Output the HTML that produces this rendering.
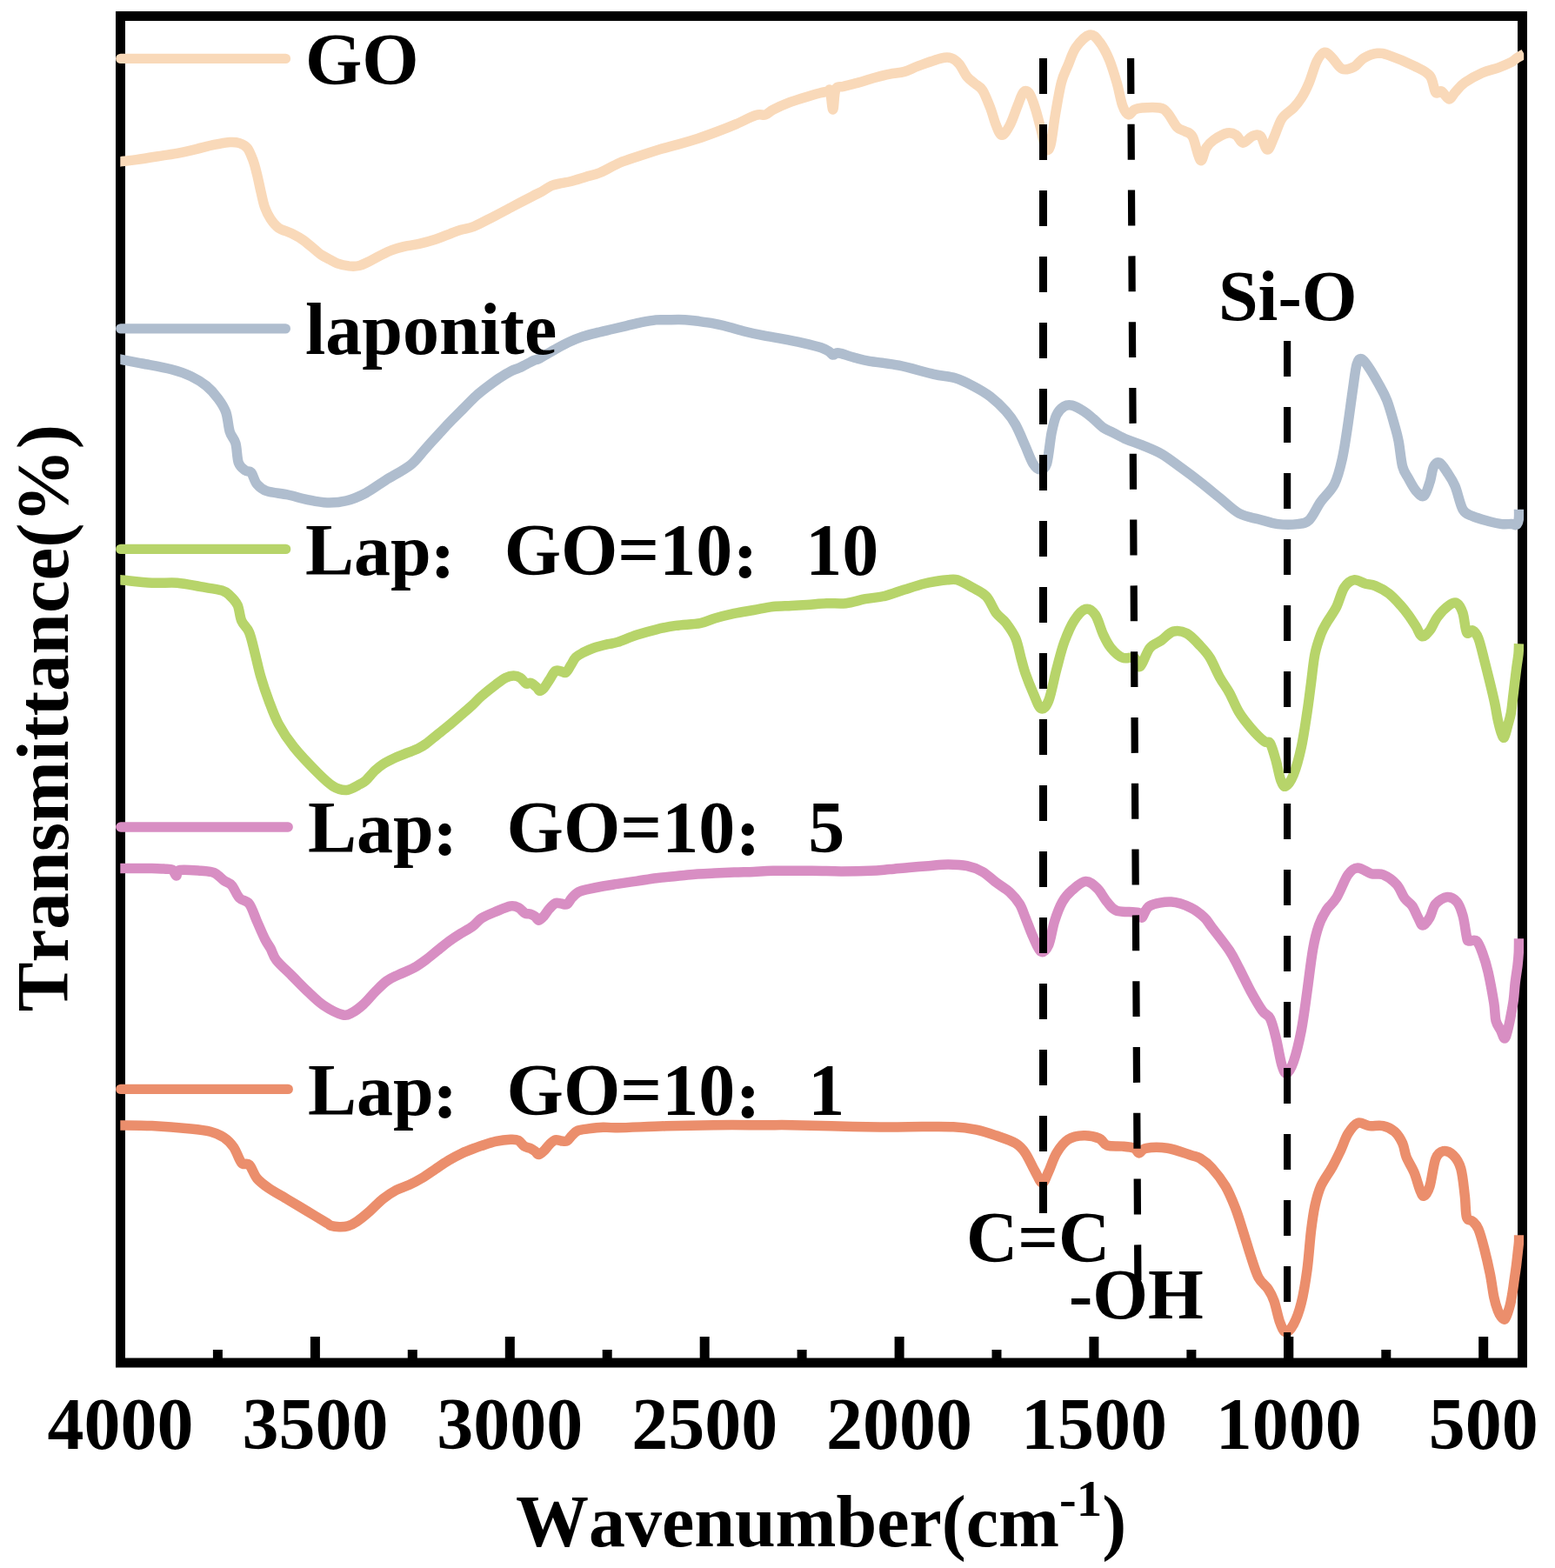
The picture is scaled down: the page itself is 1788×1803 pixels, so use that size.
<!DOCTYPE html>
<html><head><meta charset="utf-8"><title>FTIR</title>
<style>
html,body{margin:0;padding:0;background:#fff;}
body{width:1788px;height:1803px;overflow:hidden;}
svg{display:block;}
text{font-family:"Liberation Serif","Noto Serif CJK SC",serif;font-weight:bold;fill:#000;font-kerning:none;font-feature-settings:"kern" 0;}
.cj{font-family:"Noto Serif CJK SC","Liberation Serif",serif;}
</style></head><body>
<svg width="1788" height="1803" viewBox="0 0 1788 1803">
<defs><clipPath id="pc"><rect x="138.3" y="0" width="1613.9" height="1803"/></clipPath></defs>
<rect width="1788" height="1803" fill="#fff"/>
<rect x="138.5" y="18.5" width="1612" height="1548.5" fill="none" stroke="#000" stroke-width="11"/>
<rect x="356.9" y="1537" width="11" height="26" fill="#000"/>
<rect x="580.8" y="1537" width="11" height="26" fill="#000"/>
<rect x="804.7" y="1537" width="11" height="26" fill="#000"/>
<rect x="1028.6" y="1537" width="11" height="26" fill="#000"/>
<rect x="1252.4" y="1537" width="11" height="26" fill="#000"/>
<rect x="1476.3" y="1537" width="11" height="26" fill="#000"/>
<rect x="1700.2" y="1537" width="11" height="26" fill="#000"/>
<rect x="244.9" y="1552" width="11" height="11" fill="#000"/>
<rect x="468.8" y="1552" width="11" height="11" fill="#000"/>
<rect x="692.7" y="1552" width="11" height="11" fill="#000"/>
<rect x="916.6" y="1552" width="11" height="11" fill="#000"/>
<rect x="1140.5" y="1552" width="11" height="11" fill="#000"/>
<rect x="1364.4" y="1552" width="11" height="11" fill="#000"/>
<rect x="1588.3" y="1552" width="11" height="11" fill="#000"/>
<g clip-path="url(#pc)" fill="none" stroke-width="11.5" stroke-linejoin="round" stroke-linecap="butt">
<path stroke="#F9D9B9" d="M134.0,186.4 C134.7,186.3 134.5,186.4 138.3,185.9 C142.1,185.4 148.9,184.7 156.8,183.6 C164.7,182.5 177.7,180.4 185.9,179.1 C194.1,177.8 199.4,177.1 206.1,175.8 C212.8,174.5 219.5,172.9 226.2,171.3 C232.9,169.7 240.0,167.7 246.3,166.4 C252.6,165.1 259.4,163.8 264.2,163.5 C269.0,163.2 272.0,163.5 275.4,164.6 C278.8,165.7 281.8,166.8 284.4,170.2 C287.0,173.5 289.2,179.7 291.1,184.7 C293.0,189.7 294.0,194.4 295.5,200.4 C297.0,206.4 298.5,214.2 300.0,220.5 C301.5,226.8 302.6,233.2 304.5,238.4 C306.4,243.6 308.6,248.0 311.2,251.9 C313.8,255.8 316.1,259.1 320.2,261.9 C324.3,264.7 331.0,266.2 335.8,268.6 C340.6,271.0 344.4,273.0 349.2,276.5 C354.0,280.0 361.4,286.7 364.9,289.5 C368.4,292.3 367.7,291.9 370.0,293.4 C372.3,294.9 375.9,296.7 378.9,298.3 C381.9,299.9 384.2,301.5 387.9,302.8 C391.6,304.1 397.1,305.4 401.3,305.9 C405.5,306.3 409.3,306.3 413.0,305.5 C416.7,304.7 419.7,302.9 423.7,301.0 C427.7,299.1 432.6,296.0 437.1,293.8 C441.6,291.6 446.0,289.3 450.5,287.6 C455.0,285.9 458.8,284.8 464.0,283.6 C469.2,282.4 475.9,281.8 481.9,280.4 C487.9,279.0 493.9,277.4 499.8,275.5 C505.8,273.6 512.6,270.7 517.6,268.8 C522.6,266.9 525.5,265.7 530.0,264.3 C534.5,262.9 538.5,263.0 544.7,260.5 C550.9,258.0 559.6,253.1 567.1,249.3 C574.6,245.5 582.0,241.4 589.5,237.5 C597.0,233.6 606.3,228.7 611.9,225.8 C617.5,222.9 619.3,222.2 623.0,220.2 C626.7,218.1 630.5,215.1 634.2,213.5 C637.9,211.9 641.7,211.5 645.4,210.7 C649.1,209.9 651.9,209.7 656.6,208.5 C661.3,207.3 667.8,205.1 673.4,203.4 C679.0,201.7 683.5,201.2 690.0,198.5 C696.5,195.8 704.9,190.5 712.4,187.3 C719.9,184.1 727.2,182.0 734.7,179.5 C742.2,177.0 749.6,174.4 757.1,172.2 C764.6,170.0 772.0,168.2 779.5,166.1 C787.0,164.0 794.4,161.8 801.9,159.4 C809.4,157.0 816.8,154.3 824.2,151.5 C831.7,148.7 839.1,145.8 846.6,142.6 C854.1,139.4 863.4,134.3 869.0,132.5 C874.6,130.7 876.9,133.0 880.2,131.9 C883.5,130.8 884.6,128.5 889.0,126.2 C893.4,123.9 900.8,120.5 906.8,118.2 C912.8,115.9 918.7,114.2 924.7,112.3 C930.7,110.4 938.1,108.2 942.6,107.0 C947.1,105.8 949.6,105.6 951.6,105.2 C953.6,104.8 953.6,101.0 954.6,104.5 C955.6,108.0 956.7,126.3 957.8,126.0 C958.9,125.7 959.0,106.9 961.0,102.5 C963.0,98.1 965.1,100.7 969.5,99.4 C973.9,98.1 981.4,96.6 987.4,94.9 C993.4,93.2 999.3,91.1 1005.3,89.5 C1011.3,87.9 1017.4,86.3 1023.2,85.1 C1029.0,83.9 1034.5,83.9 1040.0,82.4 C1045.5,80.9 1048.8,78.5 1055.9,75.9 C1063.0,73.3 1076.5,68.4 1082.8,66.9 C1089.1,65.4 1090.7,65.8 1094.0,66.9 C1097.3,68.0 1099.9,70.0 1102.9,73.6 C1105.9,77.1 1108.9,84.5 1111.9,88.2 C1114.9,91.9 1117.8,93.4 1120.8,96.0 C1123.8,98.6 1126.8,99.1 1129.8,103.8 C1132.8,108.5 1136.1,117.3 1138.7,124.0 C1141.3,130.7 1143.2,138.9 1145.4,144.1 C1147.6,149.3 1149.5,155.3 1152.1,155.3 C1154.7,155.3 1158.1,149.7 1161.1,144.1 C1164.1,138.5 1167.4,128.0 1170.0,121.7 C1172.6,115.4 1174.5,108.5 1176.7,106.1 C1178.9,103.7 1181.2,104.2 1183.4,107.2 C1185.7,110.2 1188.0,117.1 1190.2,124.0 C1192.5,130.9 1194.9,140.8 1196.9,148.6 C1199.0,156.4 1200.7,167.9 1202.5,170.9 C1204.3,173.9 1206.2,173.2 1208.0,166.5 C1209.8,159.8 1211.5,142.6 1213.6,130.7 C1215.7,118.8 1218.0,104.2 1220.4,94.9 C1222.8,85.6 1225.4,81.4 1228.2,74.7 C1231.0,68.0 1233.0,60.4 1237.1,54.6 C1241.2,48.8 1248.3,41.2 1252.8,40.1 C1257.3,39.0 1260.3,43.2 1264.0,47.9 C1267.7,52.5 1271.9,60.2 1275.2,68.0 C1278.5,75.8 1281.5,86.0 1284.1,94.9 C1286.7,103.9 1288.6,115.5 1290.8,121.7 C1293.0,127.9 1295.2,131.1 1297.5,131.8 C1299.8,132.6 1301.7,127.5 1304.3,126.2 C1306.9,124.9 1308.4,124.4 1313.2,124.0 C1318.0,123.6 1328.5,123.1 1333.3,124.0 C1338.1,124.9 1338.9,125.9 1342.3,129.6 C1345.7,133.3 1350.2,142.8 1353.5,146.3 C1356.8,149.8 1359.4,148.9 1362.4,150.8 C1365.4,152.7 1368.4,151.9 1371.4,157.5 C1374.4,163.1 1377.7,182.3 1380.3,184.4 C1382.9,186.5 1384.4,173.9 1387.0,170.0 C1389.6,166.1 1391.7,163.7 1395.7,160.9 C1399.8,158.1 1407.0,153.9 1411.3,153.0 C1415.6,152.1 1418.4,153.4 1421.4,155.3 C1424.4,157.2 1426.0,164.0 1429.2,164.2 C1432.4,164.4 1437.0,157.7 1440.4,156.4 C1443.8,155.1 1446.6,153.8 1449.4,156.4 C1452.2,159.0 1454.6,171.9 1457.2,172.1 C1459.8,172.3 1462.2,163.5 1465.0,157.5 C1467.8,151.5 1470.3,141.9 1474.0,136.3 C1477.7,130.7 1483.7,127.9 1487.4,124.0 C1491.1,120.1 1493.3,117.6 1496.3,112.8 C1499.3,108.0 1502.3,102.0 1505.3,94.9 C1508.3,87.8 1511.2,76.1 1514.2,70.3 C1517.2,64.5 1520.2,60.8 1523.2,60.2 C1526.2,59.6 1528.8,63.7 1532.1,66.9 C1535.4,70.1 1539.2,77.5 1543.3,79.2 C1547.4,80.9 1552.6,79.0 1556.7,77.0 C1560.8,75.0 1563.4,69.5 1567.9,66.9 C1572.4,64.3 1578.8,61.8 1583.6,61.3 C1588.4,60.8 1589.9,61.2 1597.0,63.6 C1604.1,66.0 1618.3,72.0 1626.1,75.9 C1633.9,79.8 1639.9,82.0 1644.0,87.0 C1648.1,92.0 1648.5,103.1 1650.7,106.1 C1652.9,109.1 1654.8,103.6 1657.4,104.9 C1660.0,106.2 1663.8,113.7 1666.4,113.9 C1669.0,114.1 1670.1,109.3 1673.1,106.1 C1676.1,102.9 1679.1,98.6 1684.3,94.9 C1689.5,91.2 1698.1,86.5 1704.4,83.7 C1710.7,80.9 1716.7,80.1 1722.3,78.1 C1727.9,76.0 1734.2,73.3 1737.9,71.4 C1741.6,69.5 1742.1,68.1 1744.5,66.5 C1746.9,64.9 1751.2,62.8 1752.5,62.0"/>
<path stroke="#AFBDCE" d="M134.0,412.5 C134.7,412.6 133.4,412.2 138.3,413.1 C143.2,414.0 153.8,416.1 163.6,418.0 C173.4,419.9 187.8,422.3 197.1,424.7 C206.4,427.1 212.8,429.4 219.5,432.6 C226.2,435.8 232.2,439.5 237.4,443.8 C242.6,448.1 247.1,453.3 250.8,458.3 C254.5,463.3 257.6,467.7 259.8,474.0 C262.0,480.3 262.4,490.3 264.2,496.3 C266.0,502.3 269.2,503.8 270.9,509.8 C272.6,515.8 272.4,526.9 274.3,532.1 C276.2,537.3 279.7,539.2 282.1,541.1 C284.5,543.0 286.6,540.7 288.8,543.3 C291.0,545.9 292.5,553.2 295.5,556.7 C298.5,560.2 300.7,562.6 306.7,564.6 C312.7,566.6 323.5,567.3 331.3,569.0 C339.1,570.7 346.2,573.1 353.7,574.6 C361.2,576.1 368.6,577.8 376.1,578.0 C383.6,578.2 391.1,577.6 398.5,575.7 C405.9,573.8 413.4,570.7 420.8,566.8 C428.2,562.9 434.6,557.7 443.2,552.3 C451.8,546.9 464.7,540.4 472.3,534.4 C479.9,528.4 483.1,522.6 488.9,516.3 C494.6,510.0 501.6,502.3 506.8,496.6 C512.0,490.9 515.8,486.9 520.3,482.3 C524.8,477.7 529.2,473.4 533.7,468.9 C538.2,464.4 542.6,459.5 547.1,455.5 C551.6,451.5 556.0,448.1 560.5,444.7 C565.0,441.3 569.5,437.9 574.0,434.9 C578.5,431.9 583.7,428.7 587.4,426.8 C591.1,424.9 593.3,424.6 596.3,423.3 C599.3,422.0 602.3,420.3 605.3,418.8 C608.3,417.3 611.8,415.4 614.2,414.3 C616.7,413.2 616.2,414.2 620.0,412.3 C623.8,410.4 631.2,405.7 636.8,402.6 C642.4,399.5 648.0,396.2 653.6,393.6 C659.2,391.0 664.7,388.8 670.3,386.9 C675.9,385.0 681.5,383.8 687.1,382.4 C692.7,381.0 698.3,379.8 703.9,378.5 C709.5,377.2 715.1,375.9 720.7,374.6 C726.3,373.3 731.8,371.8 737.4,370.7 C743.0,369.6 749.5,368.4 754.2,367.9 C758.9,367.4 759.8,367.7 765.4,367.7 C771.0,367.7 781.3,367.4 787.8,367.7 C794.3,368.0 799.2,368.9 804.6,369.6 C810.0,370.3 815.4,371.0 820.0,371.8 C824.6,372.6 826.6,373.0 832.4,374.5 C838.2,376.0 847.2,378.8 854.7,380.7 C862.2,382.6 869.6,384.2 877.1,385.7 C884.6,387.2 892.0,388.2 899.5,389.6 C907.0,391.0 914.4,392.4 921.9,394.1 C929.4,395.8 939.0,398.0 944.2,399.7 C949.4,401.4 951.0,402.8 953.2,404.2 C955.5,405.6 956.2,407.8 957.7,408.1 C959.2,408.4 960.5,406.3 962.0,406.0 C963.5,405.7 963.0,405.5 966.6,406.4 C970.2,407.3 977.8,410.0 983.4,411.5 C989.0,413.0 991.6,413.9 1000.0,415.4 C1008.4,416.8 1021.3,417.7 1033.6,420.2 C1045.9,422.7 1063.0,427.9 1073.8,430.3 C1084.6,432.7 1090.9,432.5 1098.4,434.7 C1105.9,436.9 1111.9,440.1 1118.6,443.7 C1125.3,447.2 1132.4,451.1 1138.7,456.0 C1145.0,460.9 1151.8,467.4 1156.6,472.8 C1161.4,478.2 1164.1,481.7 1167.8,488.4 C1171.5,495.1 1175.7,505.5 1179.0,513.0 C1182.3,520.5 1185.1,528.7 1187.9,533.2 C1190.7,537.7 1193.1,539.9 1195.7,539.9 C1198.3,539.9 1201.3,540.3 1203.6,533.2 C1205.8,526.1 1207.3,506.7 1209.2,497.4 C1211.1,488.1 1212.4,482.2 1214.8,477.2 C1217.2,472.2 1220.7,469.0 1223.7,467.2 C1226.7,465.4 1229.0,465.2 1232.7,466.1 C1236.4,467.0 1242.0,470.2 1246.1,472.8 C1250.2,475.4 1253.6,478.5 1257.3,481.7 C1261.0,484.9 1264.8,489.2 1268.5,491.8 C1272.2,494.4 1275.1,495.2 1279.6,497.4 C1284.1,499.6 1289.7,502.8 1295.3,505.2 C1300.9,507.6 1306.5,509.1 1313.2,511.9 C1319.9,514.7 1328.1,517.7 1335.6,522.0 C1343.0,526.3 1350.5,532.3 1357.9,537.7 C1365.4,543.1 1372.9,548.7 1380.3,554.5 C1387.7,560.3 1395.0,566.4 1402.4,572.4 C1409.8,578.4 1417.2,586.2 1424.7,590.3 C1432.2,594.4 1439.6,595.0 1447.1,597.0 C1454.6,599.0 1462.0,601.7 1469.5,602.6 C1477.0,603.5 1485.9,603.4 1491.9,602.6 C1497.9,601.9 1500.8,602.4 1505.3,598.1 C1509.8,593.8 1513.8,583.8 1518.7,576.9 C1523.6,570.0 1530.3,564.9 1534.4,556.7 C1538.5,548.5 1540.7,539.2 1543.3,527.7 C1545.9,516.2 1548.0,500.8 1550.0,487.4 C1552.0,474.0 1553.9,458.5 1555.6,447.1 C1557.3,435.7 1558.4,424.5 1560.1,418.8 C1561.8,413.1 1563.3,412.0 1565.7,412.8 C1568.1,413.6 1571.2,418.5 1574.6,423.5 C1577.9,428.5 1582.4,436.4 1585.8,442.6 C1589.2,448.8 1591.8,452.7 1594.8,460.5 C1597.8,468.3 1601.5,481.8 1603.7,489.6 C1605.9,497.4 1606.7,499.7 1608.2,507.5 C1609.7,515.3 1610.8,529.5 1612.7,536.6 C1614.6,543.7 1616.8,545.3 1619.4,550.0 C1622.0,554.7 1625.3,561.2 1628.3,564.6 C1631.3,568.0 1634.7,571.9 1637.3,570.2 C1639.9,568.5 1642.1,560.1 1644.0,554.5 C1645.9,548.9 1646.6,540.3 1648.5,536.6 C1650.4,532.9 1652.6,531.0 1655.2,532.1 C1657.8,533.2 1661.1,538.8 1664.1,543.3 C1667.1,547.8 1670.1,551.9 1673.1,559.0 C1676.1,566.1 1678.7,580.0 1682.0,585.8 C1685.3,591.6 1688.4,591.4 1693.2,593.6 C1698.0,595.8 1705.5,597.7 1711.1,599.2 C1716.7,600.7 1722.3,602.1 1726.8,602.6 C1731.3,603.1 1735.1,602.4 1737.9,602.5 C1740.7,602.6 1742.1,604.4 1743.5,603.5 C1744.9,602.6 1745.8,600.0 1746.3,597.0 C1746.8,594.0 1746.5,587.7 1746.5,585.8"/>
<path stroke="#B7D46A" d="M134.0,666.5 C134.7,666.5 131.5,666.2 138.3,666.8 C145.1,667.4 163.8,669.6 174.7,670.2 C185.6,670.8 194.5,669.5 203.8,670.2 C213.1,671.0 222.1,673.2 230.7,674.7 C239.3,676.2 249.7,677.4 255.3,679.1 C260.9,680.8 261.2,681.9 264.2,684.7 C267.2,687.5 270.9,691.0 273.2,695.9 C275.4,700.8 275.5,708.6 277.7,713.8 C279.9,719.0 284.0,720.9 286.6,727.2 C289.2,733.6 291.1,743.3 293.3,751.9 C295.5,760.5 297.4,769.8 300.0,778.7 C302.6,787.6 305.6,796.5 309.0,805.5 C312.4,814.5 315.4,823.4 320.2,832.4 C325.0,841.4 330.6,849.9 338.0,859.2 C345.4,868.5 357.4,880.8 364.9,888.3 C372.4,895.8 377.2,900.6 382.8,904.0 C388.4,907.4 393.3,908.9 398.5,908.5 C403.7,908.1 410.4,903.5 414.1,901.7 C417.8,899.9 417.7,900.1 420.6,897.5 C423.5,894.9 428.0,889.0 431.3,885.9 C434.6,882.8 436.6,881.1 440.3,878.7 C444.0,876.3 449.2,873.7 453.7,871.6 C458.2,869.5 462.6,868.0 467.1,866.2 C471.6,864.4 476.8,862.7 480.5,860.9 C484.2,859.1 485.8,858.2 489.5,855.5 C493.2,852.8 498.4,848.3 502.9,844.7 C507.4,841.1 511.8,837.7 516.3,834.0 C520.8,830.3 525.3,826.3 529.8,822.4 C534.3,818.5 539.2,814.4 543.2,810.7 C547.2,807.1 549.1,804.4 553.6,800.5 C558.1,796.6 565.6,790.6 570.3,787.1 C574.9,783.6 578.1,781.0 581.5,779.3 C584.9,777.6 587.7,777.0 590.5,777.0 C593.3,777.0 595.9,777.8 598.3,779.3 C600.7,780.8 603.0,785.0 605.0,786.0 C607.0,787.0 608.6,784.6 610.6,785.4 C612.6,786.1 615.6,789.0 617.3,790.5 C619.0,792.0 619.4,794.2 620.7,794.4 C622.0,794.6 623.2,793.8 625.1,791.6 C627.0,789.5 629.6,784.9 631.9,781.5 C634.1,778.1 636.4,773.1 638.6,771.5 C640.8,769.9 643.2,771.7 645.3,772.0 C647.3,772.3 649.0,774.3 650.9,773.1 C652.8,771.9 654.6,767.6 656.5,764.7 C658.4,761.8 659.7,758.2 662.1,755.8 C664.5,753.4 667.6,752.0 671.0,750.2 C674.4,748.4 677.5,746.8 682.2,745.2 C686.9,743.6 694.4,741.8 699.0,740.7 C703.6,739.6 704.4,740.2 710.0,738.4 C715.6,736.6 724.9,732.4 732.4,730.0 C739.9,727.6 747.2,725.6 754.7,723.8 C762.2,722.0 768.7,720.6 777.1,719.4 C785.5,718.2 797.6,718.0 805.1,716.6 C812.6,715.2 815.4,712.9 821.9,711.0 C828.4,709.1 836.8,707.0 844.2,705.4 C851.7,703.8 859.1,702.8 866.6,701.5 C874.1,700.2 881.8,698.4 889.0,697.5 C896.2,696.6 903.5,696.8 910.0,696.4 C916.5,696.0 921.3,695.8 928.0,695.4 C934.7,695.0 942.8,694.0 950.3,693.7 C957.8,693.4 965.2,694.5 972.7,693.7 C980.2,692.9 987.7,690.1 995.1,688.7 C1002.5,687.3 1010.0,687.1 1017.4,685.3 C1024.8,683.5 1032.3,680.3 1039.8,678.0 C1047.3,675.7 1055.7,673.0 1062.2,671.3 C1068.7,669.6 1074.5,668.8 1079.0,668.0 C1083.5,667.2 1085.9,667.0 1089.5,666.8 C1093.1,666.6 1095.9,665.3 1100.7,666.8 C1105.5,668.3 1113.0,672.6 1118.6,675.8 C1124.2,679.0 1129.7,681.0 1134.2,685.9 C1138.7,690.8 1141.7,699.9 1145.4,704.9 C1149.1,709.9 1152.9,711.2 1156.6,716.1 C1160.3,721.0 1164.8,726.9 1167.8,734.0 C1170.8,741.1 1172.6,751.9 1174.5,758.6 C1176.4,765.3 1176.8,767.9 1179.0,774.2 C1181.2,780.5 1184.9,789.9 1187.9,796.6 C1190.9,803.3 1193.9,813.0 1196.9,814.5 C1199.9,816.0 1202.8,813.0 1205.8,805.5 C1208.8,798.0 1211.8,781.0 1214.8,769.8 C1217.8,758.6 1220.3,747.7 1223.7,738.4 C1227.1,729.1 1230.8,720.1 1234.9,713.8 C1239.0,707.5 1244.2,701.5 1248.3,700.4 C1252.4,699.3 1256.1,702.2 1259.5,707.1 C1262.9,712.0 1265.5,723.2 1268.5,729.5 C1271.5,735.8 1273.7,740.6 1277.4,745.1 C1281.1,749.6 1286.3,754.4 1290.8,756.3 C1295.3,758.2 1300.9,754.6 1304.3,756.3 C1307.7,758.0 1308.0,768.3 1311.0,766.4 C1314.0,764.5 1318.0,750.1 1322.1,745.1 C1326.2,740.1 1331.1,739.4 1335.6,736.2 C1340.1,733.0 1344.2,727.4 1349.0,726.1 C1353.8,724.8 1359.5,725.6 1364.7,728.4 C1369.9,731.2 1375.9,738.2 1380.3,742.9 C1384.7,747.5 1387.5,750.3 1391.2,756.3 C1394.9,762.3 1398.7,772.0 1402.4,778.7 C1406.1,785.4 1409.9,789.9 1413.6,796.6 C1417.3,803.3 1420.6,812.3 1424.7,819.0 C1428.8,825.7 1433.4,831.3 1438.2,836.9 C1443.0,842.5 1450.1,849.5 1453.8,852.5 C1457.5,855.5 1458.3,851.1 1460.5,854.8 C1462.7,858.5 1465.2,867.8 1467.2,874.9 C1469.2,882.0 1470.9,892.4 1472.8,897.3 C1474.7,902.1 1476.0,905.1 1478.4,904.0 C1480.8,902.9 1484.4,898.1 1487.4,890.6 C1490.4,883.1 1493.7,871.1 1496.3,859.2 C1498.9,847.3 1501.1,831.3 1503.0,819.0 C1504.9,806.7 1506.0,796.6 1507.5,785.4 C1509.0,774.2 1510.1,761.2 1512.0,751.9 C1513.9,742.6 1516.5,735.5 1518.7,729.5 C1520.9,723.5 1522.4,721.3 1525.4,716.1 C1528.4,710.9 1533.2,704.9 1536.6,698.2 C1539.9,691.5 1542.2,681.0 1545.5,675.8 C1548.8,670.6 1552.6,667.5 1556.7,666.8 C1560.8,666.0 1566.1,670.2 1570.2,671.3 C1574.3,672.4 1576.8,671.7 1581.3,673.6 C1585.8,675.5 1592.2,678.8 1597.0,682.5 C1601.8,686.2 1606.7,691.8 1610.4,695.9 C1614.1,700.0 1616.4,703.0 1619.4,707.1 C1622.4,711.2 1625.7,716.4 1628.3,720.5 C1630.9,724.6 1632.4,731.0 1635.0,731.7 C1637.6,732.5 1641.0,728.7 1644.0,725.0 C1647.0,721.3 1649.2,714.2 1652.9,709.4 C1656.6,704.5 1662.7,698.5 1666.4,695.9 C1670.1,693.3 1672.7,692.2 1675.3,693.7 C1677.9,695.2 1680.1,699.3 1682.0,704.9 C1683.9,710.5 1684.6,723.9 1686.5,727.2 C1688.4,730.6 1691.0,723.9 1693.2,725.0 C1695.4,726.1 1697.7,728.4 1699.9,734.0 C1702.1,739.6 1704.4,750.0 1706.6,758.6 C1708.8,767.2 1711.2,776.8 1713.3,785.4 C1715.4,794.0 1717.5,802.9 1719.0,810.0 C1720.5,817.1 1721.1,822.7 1722.3,828.0 C1723.5,833.3 1724.8,838.7 1726.0,842.0 C1727.2,845.3 1728.2,849.2 1729.5,848.0 C1730.8,846.8 1732.2,839.7 1733.5,835.0 C1734.8,830.3 1736.3,825.7 1737.4,819.8 C1738.5,813.9 1738.9,808.1 1739.9,799.8 C1740.9,791.5 1742.5,777.9 1743.5,769.9 C1744.5,761.9 1745.5,756.9 1746.0,752.0 C1746.5,747.1 1746.4,742.2 1746.5,740.3"/>
<path stroke="#D88EC3" d="M134.0,998.6 C134.7,998.6 131.5,998.6 138.3,998.6 C145.1,998.6 166.4,998.5 174.7,998.6 C183.0,998.7 184.3,998.9 188.2,999.1 C192.1,999.3 195.6,998.7 198.0,1000.0 C200.4,1001.3 201.2,1006.8 202.7,1006.9 C204.2,1007.0 202.3,1001.4 207.0,1000.5 C211.7,999.6 224.1,1000.8 230.7,1001.3 C237.2,1001.8 241.8,1001.7 246.3,1003.6 C250.8,1005.5 254.1,1010.1 257.5,1012.5 C260.9,1014.9 263.5,1014.8 266.5,1018.1 C269.5,1021.5 272.0,1029.0 275.4,1032.6 C278.8,1036.1 283.2,1034.9 286.6,1039.4 C290.0,1043.9 292.5,1052.8 295.5,1059.5 C298.5,1066.2 301.9,1074.4 304.5,1079.6 C307.1,1084.8 309.0,1086.7 311.2,1090.8 C313.4,1094.9 313.8,1099.0 317.9,1104.2 C322.0,1109.4 329.8,1116.1 335.8,1122.1 C341.8,1128.1 347.7,1134.4 353.7,1140.0 C359.7,1145.6 364.9,1151.2 371.6,1155.7 C378.3,1160.2 388.5,1165.4 394.0,1166.9 C399.5,1168.4 400.5,1166.7 404.5,1164.7 C408.5,1162.7 413.4,1158.9 417.9,1154.9 C422.4,1150.9 426.8,1145.0 431.3,1140.5 C435.8,1136.0 440.2,1131.3 444.7,1128.0 C449.2,1124.7 453.0,1123.4 458.2,1120.9 C463.4,1118.4 470.9,1115.7 476.1,1112.8 C481.3,1109.9 485.0,1107.1 489.5,1103.8 C494.0,1100.5 498.4,1096.7 502.9,1093.1 C507.4,1089.5 511.8,1085.7 516.3,1082.4 C520.8,1079.1 525.3,1076.2 529.8,1073.4 C534.3,1070.6 539.2,1068.3 543.2,1065.4 C547.2,1062.5 549.1,1058.8 553.6,1055.9 C558.1,1053.0 564.7,1050.4 570.3,1048.1 C575.9,1045.8 582.8,1042.7 587.1,1041.9 C591.4,1041.2 593.3,1042.2 596.1,1043.6 C598.9,1045.0 601.7,1049.1 603.9,1050.3 C606.1,1051.5 607.6,1050.3 609.5,1050.9 C611.4,1051.5 613.4,1052.5 615.1,1053.7 C616.8,1054.9 617.9,1058.2 619.6,1058.2 C621.3,1058.2 623.1,1056.0 625.1,1053.7 C627.1,1051.5 629.6,1047.2 631.9,1044.7 C634.1,1042.2 636.4,1039.5 638.6,1038.6 C640.8,1037.7 643.1,1038.9 645.3,1039.1 C647.5,1039.3 650.0,1040.8 652.0,1039.7 C654.0,1038.6 655.4,1034.7 657.6,1032.4 C659.8,1030.1 662.2,1027.4 665.4,1025.7 C668.6,1024.0 671.9,1023.5 676.6,1022.4 C681.3,1021.3 687.8,1020.0 693.4,1019.0 C699.0,1018.0 703.5,1017.4 710.0,1016.4 C716.5,1015.4 724.9,1014.2 732.4,1013.1 C739.9,1012.0 747.2,1010.6 754.7,1009.7 C762.2,1008.8 769.6,1008.2 777.1,1007.5 C784.6,1006.8 792.0,1005.8 799.5,1005.2 C807.0,1004.6 814.4,1004.5 821.9,1004.1 C829.4,1003.7 836.8,1003.3 844.2,1003.0 C851.7,1002.7 859.1,1002.7 866.6,1002.4 C874.1,1002.1 877.8,1001.5 889.0,1001.3 C900.2,1001.1 920.6,1001.2 933.6,1001.3 C946.6,1001.4 955.9,1001.9 967.1,1001.9 C978.3,1001.9 991.4,1001.7 1000.7,1001.3 C1010.0,1000.9 1015.5,1000.2 1023.0,999.6 C1030.5,999.0 1037.9,998.0 1045.4,997.4 C1052.9,996.8 1060.3,996.3 1067.8,995.7 C1075.3,995.1 1082.8,994.0 1090.2,994.0 C1097.6,994.0 1105.3,994.3 1111.9,995.7 C1118.5,997.1 1124.2,999.2 1129.8,1002.4 C1135.4,1005.6 1140.2,1010.8 1145.4,1014.7 C1150.6,1018.6 1156.6,1021.8 1161.1,1025.9 C1165.6,1030.0 1169.3,1034.6 1172.3,1039.4 C1175.3,1044.2 1176.4,1048.7 1179.0,1055.0 C1181.6,1061.3 1184.9,1070.9 1187.9,1077.4 C1190.9,1083.9 1193.9,1092.7 1196.9,1094.2 C1199.9,1095.7 1203.2,1092.1 1205.8,1086.3 C1208.4,1080.5 1209.9,1067.7 1212.5,1059.5 C1215.1,1051.3 1218.1,1043.1 1221.5,1037.1 C1224.9,1031.1 1228.2,1027.6 1232.7,1023.7 C1237.2,1019.8 1243.5,1014.0 1248.3,1013.6 C1253.1,1013.2 1257.6,1017.6 1261.7,1021.5 C1265.8,1025.4 1269.2,1032.8 1272.9,1037.1 C1276.6,1041.4 1278.1,1045.2 1284.1,1047.2 C1290.1,1049.2 1303.8,1048.1 1308.7,1049.4 C1313.6,1050.7 1311.0,1056.3 1313.2,1055.0 C1315.4,1053.7 1316.5,1044.6 1322.1,1041.6 C1327.7,1038.6 1339.0,1036.7 1346.8,1037.1 C1354.6,1037.5 1362.8,1040.8 1369.1,1043.8 C1375.4,1046.8 1380.8,1051.3 1384.8,1055.0 C1388.8,1058.7 1388.6,1059.9 1393.4,1066.2 C1398.2,1072.5 1408.4,1085.2 1413.6,1093.0 C1418.8,1100.8 1420.6,1105.4 1424.7,1113.2 C1428.8,1121.0 1433.7,1131.8 1438.2,1140.0 C1442.7,1148.2 1447.9,1157.2 1451.6,1162.4 C1455.3,1167.6 1457.9,1166.1 1460.5,1171.3 C1463.1,1176.5 1465.0,1184.8 1467.2,1193.7 C1469.5,1202.7 1471.9,1218.3 1474.0,1225.0 C1476.1,1231.7 1477.4,1234.7 1479.6,1234.0 C1481.8,1233.3 1484.6,1228.8 1487.4,1220.6 C1490.2,1212.4 1493.7,1198.2 1496.3,1184.8 C1498.9,1171.4 1500.8,1155.7 1503.0,1140.0 C1505.2,1124.3 1507.5,1103.5 1509.8,1090.8 C1512.0,1078.1 1513.9,1071.5 1516.5,1064.0 C1519.1,1056.5 1522.1,1051.3 1525.4,1046.1 C1528.8,1040.9 1532.5,1039.3 1536.6,1032.6 C1540.7,1025.9 1545.9,1011.6 1550.0,1005.8 C1554.1,1000.0 1556.7,998.2 1561.2,998.0 C1565.7,997.8 1572.1,1003.4 1576.9,1004.7 C1581.8,1006.0 1585.5,1003.8 1590.3,1005.8 C1595.1,1007.8 1601.8,1012.5 1605.9,1017.0 C1610.0,1021.5 1611.9,1028.5 1614.9,1032.6 C1617.9,1036.7 1621.2,1037.9 1623.8,1041.6 C1626.4,1045.3 1628.5,1051.3 1630.5,1055.0 C1632.5,1058.7 1633.8,1064.0 1636.1,1064.0 C1638.3,1064.0 1641.6,1059.1 1644.0,1055.0 C1646.4,1050.9 1647.4,1043.3 1650.7,1039.4 C1654.0,1035.5 1660.0,1031.9 1664.1,1031.5 C1668.2,1031.1 1672.3,1033.5 1675.3,1037.1 C1678.3,1040.6 1680.1,1046.1 1682.0,1052.8 C1683.9,1059.5 1685.4,1072.6 1686.5,1077.4 C1687.6,1082.2 1686.8,1081.2 1688.7,1081.9 C1690.6,1082.7 1695.1,1079.7 1697.7,1081.9 C1700.3,1084.1 1702.2,1089.3 1704.4,1095.3 C1706.6,1101.3 1708.9,1108.0 1711.1,1117.7 C1713.3,1127.4 1716.3,1144.1 1717.8,1153.4 C1719.3,1162.7 1718.7,1168.4 1720.0,1173.6 C1721.3,1178.8 1723.9,1181.4 1725.6,1184.8 C1727.3,1188.2 1728.7,1194.0 1730.0,1194.0 C1731.3,1194.0 1732.4,1189.0 1733.5,1185.0 C1734.6,1181.0 1735.7,1175.8 1736.8,1170.0 C1737.9,1164.2 1739.4,1156.7 1740.3,1150.0 C1741.2,1143.3 1741.4,1136.7 1742.2,1130.0 C1743.0,1123.3 1744.3,1115.8 1745.0,1110.0 C1745.7,1104.2 1746.0,1100.1 1746.3,1095.0 C1746.5,1089.9 1746.5,1081.9 1746.5,1079.3"/>
<path stroke="#EB8E6C" d="M134.0,1293.9 C134.7,1293.9 131.5,1293.8 138.3,1293.9 C145.1,1294.0 161.2,1293.9 174.7,1294.6 C188.2,1295.3 208.3,1296.9 219.5,1298.0 C230.7,1299.1 235.6,1299.6 241.9,1301.3 C248.2,1303.0 253.0,1305.0 257.5,1308.0 C262.0,1311.0 265.3,1314.4 268.7,1319.2 C272.1,1324.0 274.7,1333.7 277.7,1337.1 C280.7,1340.5 283.6,1336.4 286.6,1339.4 C289.6,1342.4 291.8,1350.5 295.5,1355.0 C299.2,1359.5 303.0,1362.1 309.0,1366.2 C315.0,1370.3 323.9,1375.1 331.3,1379.6 C338.8,1384.1 346.2,1388.5 353.7,1393.0 C361.2,1397.5 371.7,1403.8 376.1,1406.5 C380.5,1409.2 377.7,1408.5 380.0,1409.2 C382.3,1409.9 386.8,1410.6 390.1,1410.7 C393.5,1410.8 396.8,1410.7 400.1,1409.7 C403.5,1408.7 406.0,1407.6 410.2,1404.7 C414.4,1401.8 420.3,1397.0 425.3,1392.6 C430.3,1388.2 435.4,1382.5 440.4,1378.5 C445.4,1374.5 450.5,1371.2 455.5,1368.5 C460.5,1365.8 465.6,1364.8 470.6,1362.4 C475.6,1360.1 480.7,1357.4 485.7,1354.4 C490.7,1351.4 495.8,1347.7 500.8,1344.3 C505.8,1340.9 510.9,1337.2 515.9,1334.2 C520.9,1331.2 526.0,1328.6 531.0,1326.2 C536.0,1323.8 542.3,1321.5 546.1,1320.1 C549.9,1318.6 549.6,1318.8 553.6,1317.5 C557.6,1316.2 564.7,1313.6 570.3,1312.4 C575.9,1311.2 582.8,1310.4 587.1,1310.2 C591.4,1310.0 593.5,1310.0 596.1,1311.3 C598.7,1312.6 600.6,1316.5 602.8,1318.0 C605.0,1319.5 607.5,1319.4 609.5,1320.3 C611.5,1321.2 613.4,1322.4 615.1,1323.6 C616.8,1324.8 617.7,1327.7 619.6,1327.5 C621.5,1327.3 624.2,1324.5 626.3,1322.5 C628.3,1320.5 629.8,1317.8 631.9,1315.8 C634.0,1313.8 636.4,1311.4 638.6,1310.8 C640.8,1310.2 643.1,1311.7 645.3,1311.9 C647.5,1312.1 650.0,1312.9 652.0,1311.9 C654.0,1310.9 655.6,1307.7 657.6,1305.7 C659.6,1303.7 661.1,1301.4 664.3,1300.1 C667.5,1298.8 671.8,1298.6 676.6,1297.9 C681.5,1297.2 687.8,1296.4 693.4,1296.2 C699.0,1296.0 697.9,1297.0 710.0,1296.8 C722.1,1296.6 747.2,1295.3 765.9,1294.8 C784.5,1294.3 803.2,1293.9 821.9,1293.7 C840.5,1293.5 863.1,1293.7 877.8,1293.7 C892.5,1293.7 897.0,1293.5 910.0,1293.7 C923.0,1293.9 938.9,1294.4 955.9,1294.8 C972.9,1295.2 997.1,1295.8 1011.9,1296.0 C1026.7,1296.2 1030.7,1295.8 1044.7,1295.7 C1058.8,1295.7 1083.2,1295.1 1096.2,1295.7 C1109.2,1296.3 1114.8,1297.4 1123.0,1299.1 C1131.2,1300.8 1137.9,1303.2 1145.4,1305.8 C1152.9,1308.4 1162.2,1311.3 1167.8,1314.7 C1173.4,1318.1 1175.3,1320.5 1179.0,1325.9 C1182.7,1331.3 1186.9,1341.3 1190.2,1347.0 C1193.5,1352.7 1196.0,1360.2 1198.6,1360.2 C1201.2,1360.2 1203.1,1352.7 1205.8,1347.0 C1208.5,1341.3 1211.1,1332.0 1214.8,1325.9 C1218.5,1319.8 1223.0,1313.7 1228.2,1310.3 C1233.4,1306.9 1240.1,1306.0 1246.1,1305.8 C1252.1,1305.6 1259.5,1307.2 1264.0,1309.1 C1268.5,1311.0 1268.4,1315.5 1272.9,1317.0 C1277.4,1318.5 1285.6,1317.5 1290.8,1318.1 C1296.0,1318.6 1301.1,1319.0 1304.3,1320.3 C1307.5,1321.6 1307.6,1325.9 1309.8,1325.9 C1312.0,1325.9 1312.3,1321.2 1317.7,1320.3 C1323.1,1319.4 1333.7,1319.0 1342.3,1320.3 C1350.9,1321.6 1362.8,1326.2 1369.1,1328.2 C1375.4,1330.2 1376.0,1329.5 1380.0,1332.0 C1384.0,1334.5 1388.6,1337.7 1393.4,1343.0 C1398.2,1348.3 1404.6,1356.4 1409.1,1364.0 C1413.6,1371.6 1416.9,1380.0 1420.3,1388.6 C1423.7,1397.2 1426.2,1406.1 1429.2,1415.4 C1432.2,1424.7 1435.2,1435.5 1438.2,1444.5 C1441.2,1453.5 1443.8,1462.8 1447.1,1469.1 C1450.4,1475.4 1455.3,1478.0 1458.3,1482.5 C1461.3,1487.0 1462.8,1489.7 1465.0,1496.0 C1467.2,1502.3 1469.5,1514.6 1471.7,1520.6 C1473.9,1526.5 1475.8,1531.3 1478.4,1531.7 C1481.0,1532.1 1484.4,1528.4 1487.4,1522.8 C1490.4,1517.2 1493.7,1508.6 1496.3,1498.2 C1498.9,1487.8 1501.1,1474.0 1503.0,1460.2 C1504.9,1446.4 1506.0,1427.7 1507.5,1415.4 C1509.0,1403.1 1510.1,1394.9 1512.0,1386.3 C1513.9,1377.7 1515.4,1371.5 1518.7,1364.0 C1522.0,1356.5 1528.4,1348.3 1532.1,1341.6 C1535.8,1334.9 1538.1,1330.0 1541.1,1323.7 C1544.1,1317.4 1546.7,1309.0 1550.0,1303.6 C1553.3,1298.2 1557.1,1292.8 1561.2,1291.3 C1565.3,1289.8 1569.8,1294.0 1574.6,1294.6 C1579.4,1295.1 1585.4,1293.5 1590.3,1294.6 C1595.2,1295.7 1600.0,1297.9 1603.7,1301.3 C1607.4,1304.7 1610.5,1309.8 1612.7,1314.7 C1614.9,1319.6 1614.9,1324.8 1617.1,1330.4 C1619.3,1336.0 1623.5,1342.0 1626.1,1348.3 C1628.7,1354.6 1630.9,1363.9 1632.8,1368.4 C1634.7,1372.9 1635.4,1375.8 1637.3,1375.1 C1639.2,1374.4 1641.8,1371.1 1644.0,1364.0 C1646.2,1356.9 1648.1,1339.3 1650.7,1332.6 C1653.3,1325.9 1656.2,1324.4 1659.6,1323.7 C1662.9,1323.0 1667.4,1324.9 1670.8,1328.2 C1674.2,1331.5 1677.5,1336.0 1679.8,1343.8 C1682.0,1351.6 1683.2,1365.8 1684.3,1375.1 C1685.4,1384.4 1685.0,1394.9 1686.5,1399.8 C1688.0,1404.7 1691.0,1402.0 1693.2,1404.2 C1695.4,1406.4 1697.7,1408.0 1699.9,1413.2 C1702.1,1418.4 1704.4,1426.9 1706.6,1435.5 C1708.8,1444.1 1711.4,1455.3 1713.3,1464.6 C1715.2,1473.9 1716.3,1484.4 1717.8,1491.5 C1719.3,1498.6 1720.9,1503.3 1722.3,1507.1 C1723.7,1510.8 1724.7,1512.3 1726.0,1514.0 C1727.3,1515.7 1729.0,1517.7 1730.3,1517.0 C1731.5,1516.3 1732.5,1512.8 1733.5,1510.0 C1734.5,1507.2 1735.5,1504.2 1736.5,1500.0 C1737.5,1495.8 1738.5,1490.0 1739.3,1485.0 C1740.1,1480.0 1740.7,1475.0 1741.4,1470.0 C1742.1,1465.0 1742.9,1460.0 1743.5,1455.0 C1744.1,1450.0 1744.7,1444.5 1745.2,1440.0 C1745.7,1435.5 1746.3,1431.3 1746.5,1428.0 C1746.7,1424.7 1746.6,1421.5 1746.6,1420.2"/>
</g>
<line x1="138.8" y1="67.4" x2="328.4" y2="67.4" stroke="#F9D9B9" stroke-width="11.4" stroke-linecap="round"/>
<line x1="138.8" y1="377.9" x2="328.3" y2="377.9" stroke="#AFBDCE" stroke-width="11.4" stroke-linecap="round"/>
<line x1="138.8" y1="631.4" x2="328.6" y2="631.4" stroke="#B7D46A" stroke-width="11.4" stroke-linecap="round"/>
<line x1="138.8" y1="951.0" x2="331.2" y2="951.0" stroke="#D88EC3" stroke-width="11.4" stroke-linecap="round"/>
<line x1="138.8" y1="1252.4" x2="331.2" y2="1252.4" stroke="#EB8E6C" stroke-width="11.4" stroke-linecap="round"/>
<g stroke="#000" fill="none" stroke-dasharray="41 35">
<line x1="1199.5" y1="67" x2="1199.5" y2="1395" stroke-width="9"/>
<line x1="1300.1" y1="67" x2="1308.4" y2="1475" stroke-width="8.2" stroke-dasharray="40.9 34.9"/>
<line x1="1480.1" y1="392" x2="1480.1" y2="1562" stroke-width="8.2"/>
</g>
<text x="138.5" y="1665.5" font-size="84" text-anchor="middle">4000</text>
<text x="362.4" y="1665.5" font-size="84" text-anchor="middle">3500</text>
<text x="586.3" y="1665.5" font-size="84" text-anchor="middle">3000</text>
<text x="810.2" y="1665.5" font-size="84" text-anchor="middle">2500</text>
<text x="1034.1" y="1665.5" font-size="84" text-anchor="middle">2000</text>
<text x="1257.9" y="1665.5" font-size="84" text-anchor="middle">1500</text>
<text x="1481.8" y="1665.5" font-size="84" text-anchor="middle">1000</text>
<text x="1705.7" y="1665.5" font-size="84" text-anchor="middle">500</text>
<text x="351" y="96.5" font-size="84">GO</text>
<text x="351" y="406.8" font-size="84">laponite</text>
<text y="660.9" font-size="84"><tspan x="351.0">Lap</tspan><tspan class="cj" x="493.2" font-size="58" dy="2.9" stroke="#000" stroke-width="4">：</tspan><tspan x="579.7" dy="-2.9">GO=10</tspan><tspan class="cj" x="841.3" font-size="58" dy="2.9" stroke="#000" stroke-width="4">：</tspan><tspan x="926.3" dy="-2.9">10</tspan></text>
<text y="979.8" font-size="84"><tspan x="353.9">Lap</tspan><tspan class="cj" x="496.1" font-size="58" dy="2.9" stroke="#000" stroke-width="4">：</tspan><tspan x="582.6" dy="-2.9">GO=10</tspan><tspan class="cj" x="844.2" font-size="58" dy="2.9" stroke="#000" stroke-width="4">：</tspan><tspan x="929.2" dy="-2.9">5</tspan></text>
<text y="1281.8" font-size="84"><tspan x="353.9">Lap</tspan><tspan class="cj" x="496.1" font-size="58" dy="2.9" stroke="#000" stroke-width="4">：</tspan><tspan x="582.6" dy="-2.9">GO=10</tspan><tspan class="cj" x="844.2" font-size="58" dy="2.9" stroke="#000" stroke-width="4">：</tspan><tspan x="929.2" dy="-2.9">1</tspan></text>
<text x="1401" y="367.7" font-size="82">Si-O</text>
<text x="1111" y="1449.5" font-size="82">C=C</text>
<text x="1229" y="1515.8" font-size="82">-OH</text>
<text x="592.9" y="1777.7" font-size="84">Wavenumber(cm<tspan font-size="59" dy="-34.7">-1</tspan><tspan dy="34.7">)</tspan></text>
<text transform="translate(78,1163.2) rotate(-90)" x="0" y="0" font-size="85">Transmittance(%)</text>
</svg>
</body></html>
